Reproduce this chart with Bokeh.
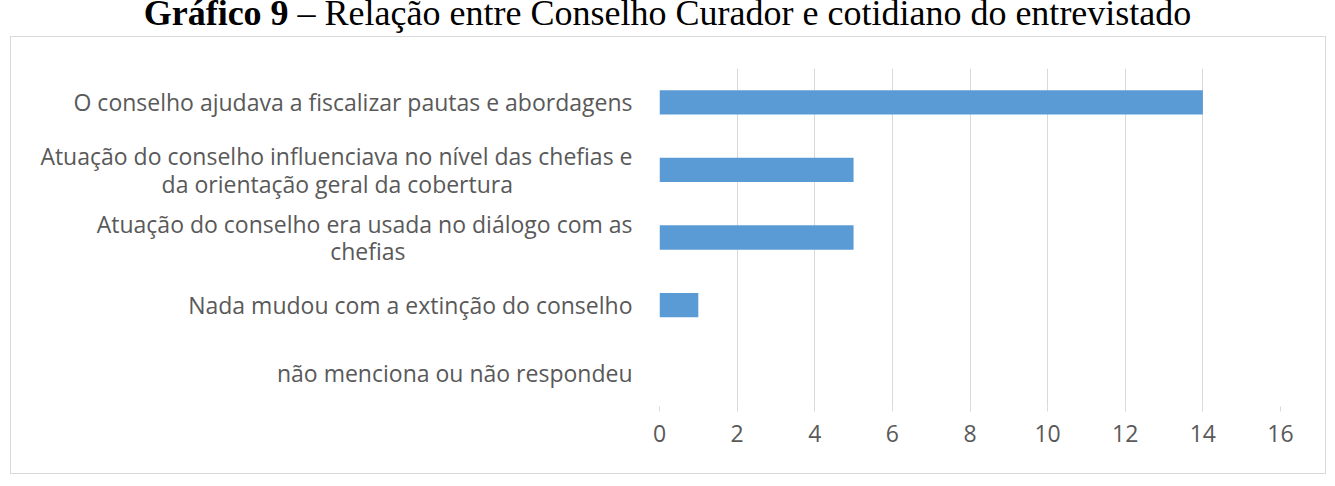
from bokeh.plotting import figure
from bokeh.models import FactorRange, Range1d, FixedTicker, Div
from bokeh.layouts import column
from bokeh.embed import file_html
from bokeh.resources import INLINE

# ---- data ----
NB = "\u00a0"
categories = [
    "O conselho ajudava a fiscalizar pautas e abordagens",
    "Atuação do conselho influenciava no nível das chefias e\nda orientação geral da cobertura" + NB * 20,
    "Atuação do conselho era usada no diálogo com as\nchefias" + NB * 38,
    "Nada mudou com a extinção do conselho",
    "não menciona ou não respondeu",
]
values = [14, 5, 5, 1, 0]
x_ticks = [0, 2, 4, 6, 8, 10, 12, 14, 16]
title_bold = "Gráfico 9"
title_rest = "– Relação entre Conselho Curador e cotidiano do entrevistado"

# ---- layout (page coordinates) ----
PAGE_W = 1335
BOX_L, BOX_R, BOX_T, BOX_B = 10, 1328, 36, 476
CW, CH = BOX_R - BOX_L - 2, BOX_B - BOX_T - 2   # canvas inside 1px border
FL, FR, FT, FB = 659 - BOX_L - 1, 1280 - BOX_L - 1, 68 - BOX_T - 1, 406 - BOX_T - 1

LABEL_FONT = "Open Sans"
GRAY = "#595959"

title = Div(
    text=(
        '<div style="font-family:\'Liberation Serif\'; font-size:36px; line-height:36px; '
        'text-align:center; white-space:nowrap; color:black; margin-top:-5px; width:%dpx">'
        '<b>%s</b> %s</div>' % (PAGE_W, title_bold, title_rest)
    ),
    width=PAGE_W, height=BOX_T, margin=0,
    styles={"overflow": "hidden"},
)

p = figure(
    width=CW, height=CH,
    y_range=FactorRange(factors=list(reversed(categories))),
    x_range=Range1d(0, 16),
    output_backend="svg", toolbar_location=None,
    min_border_left=FL, min_border_right=CW - FR,
    min_border_top=FT, min_border_bottom=CH - FB,
    outline_line_color=None, background_fill_color="white", border_fill_color="white",
    styles={"margin-left": "%dpx" % BOX_L, "border": "1px solid #d9d9d9"},
)
p.y_range.range_padding = 0
p.y_range.factor_padding = 0

p.hbar(y=categories, right=values, left=0, height=0.36, color="#5b9bd5", line_color=None)

# axes
p.xaxis.ticker = FixedTicker(ticks=x_ticks)
p.xaxis.axis_line_color = None
p.xaxis.major_tick_line_color = "#d9d9d9"
p.xaxis.major_tick_in = 0
p.xaxis.major_tick_out = 5
p.xaxis.minor_tick_line_color = None
p.xaxis.major_label_text_font = LABEL_FONT
p.xaxis.major_label_text_font_size = "23px"
p.xaxis.major_label_text_color = GRAY
p.xaxis.major_label_standoff = 13

p.yaxis.axis_line_color = None
p.yaxis.major_tick_line_color = None
p.yaxis.major_tick_out = 0
p.yaxis.major_label_text_font = LABEL_FONT
p.yaxis.major_label_text_font_size = "23px"
p.yaxis.major_label_text_color = GRAY
p.yaxis.major_label_standoff = 27
p.yaxis.major_label_text_line_height = 0.86

p.xgrid.grid_line_color = "#d9d9d9"
p.xgrid.grid_line_width = 1
p.ygrid.grid_line_color = None

layout = column(title, p, spacing=0)
open("out.html", "w").write(file_html(layout, INLINE))
